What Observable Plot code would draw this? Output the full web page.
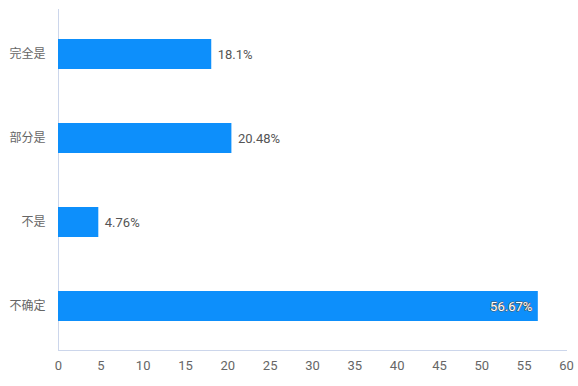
<!DOCTYPE html>
<html>
<head>
<meta charset="utf-8">
<script src="https://cdn.jsdelivr.net/npm/d3@7"></script>
<script src="https://cdn.jsdelivr.net/npm/@observablehq/plot@0.6"></script>
<style>
  html, body { margin: 0; padding: 0; background: #fff; }
  svg { display: block; }
</style>
</head>
<body>
<div id="chart"></div>
<script>
const categories = ["完全是", "部分是", "不是", "不确定"];
const values = [18.1, 20.48, 4.76, 56.67];
const valueLabels = ["18.1%", "20.48%", "4.76%", "56.67%"];
const xTicks = [0, 5, 10, 15, 20, 25, 30, 35, 40, 45, 50, 55, 60];

const data = categories.map((c, i) => ({cat: c, value: values[i], label: valueLabels[i]}));
const outside = data.filter(d => d.value < 40);
const inside = data.filter(d => d.value >= 40);

const chart = Plot.plot({
  width: 578,
  height: 386,
  marginTop: 9,
  marginBottom: 36,
  marginLeft: 58,
  marginRight: 12,
  style: {fontFamily: "Roboto, 'Noto Sans CJK SC', sans-serif", fontSize: "13px", background: "#fff"},
  x: {domain: [0, 60], ticks: xTicks, tickSize: 0, tickPadding: 10, label: null},
  y: {domain: categories, paddingInner: 0.647, paddingOuter: 0.33, tickSize: 0, tickPadding: 13, label: null},
  marks: [
    Plot.frame({anchor: "bottom", stroke: "#ccd6eb"}),
    Plot.ruleX([0], {stroke: "#ccd6eb"}),
    Plot.barX(data, {x: "value", y: "cat", fill: "#0d8ffb"}),
    Plot.text(outside, {x: "value", y: "cat", text: "label", textAnchor: "start", dx: 6, fill: "#555", fontSize: 13}),
    Plot.text(inside, {x: "value", y: "cat", text: "label", textAnchor: "end", dx: -6, fill: "#fff", stroke: "#555", strokeWidth: 1.2, fontSize: 13}),
    Plot.axisX({ticks: xTicks, tickSize: 0, tickPadding: 10, color: "#666", fontSize: 13}),
    Plot.axisY({tickSize: 0, tickPadding: 13, color: "#666", fontSize: 12})
  ]
});
document.getElementById("chart").appendChild(chart);
</script>
</body>
</html>
